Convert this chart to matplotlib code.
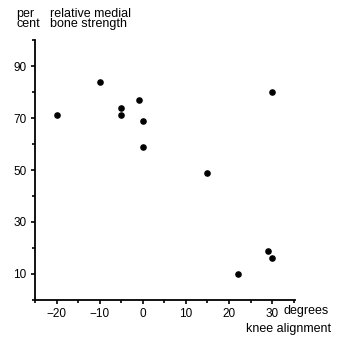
import matplotlib.pyplot as plt
from matplotlib.ticker import MultipleLocator

# knee alignment (degrees) vs relative medial bone strength (per cent)
alignment = [-20, -10, -5, -5, -1, 0, 0, 15, 30, 22, 29, 30]
strength = [71, 84, 74, 71, 77, 69, 59, 49, 80, 10, 19, 16]

x_ticks = [-20, -10, 0, 10, 20, 30]
y_ticks = [10, 30, 50, 70, 90]

plt.rcParams['font.family'] = ['Liberation Sans', 'DejaVu Sans']

fig = plt.figure(figsize=(3.41, 3.37), dpi=100)
ax = fig.add_axes([0.103, 0.110, 0.762, 0.771])

ax.scatter(alignment, strength, s=14, color="black", zorder=3)

ax.set_xlim(-25, 35.3)
ax.set_ylim(0, 100)
ax.set_xticks(x_ticks)
ax.set_yticks(y_ticks)
ax.xaxis.set_minor_locator(MultipleLocator(5))
ax.yaxis.set_minor_locator(MultipleLocator(10))
ax.tick_params(which="both", direction="out", length=3, width=1.2, labelsize=8.5, pad=3)
ax.tick_params(which="minor", length=2)
ax.spines["top"].set_visible(False)
ax.spines["right"].set_visible(False)
for s in ("left", "bottom"):
    ax.spines[s].set_linewidth(1.3)

fig.text(0.047, 0.977, "per\ncent", ha="left", va="top", fontsize=9, linespacing=0.85)
fig.text(0.147, 0.977, "relative medial\nbone strength", ha="left", va="top", fontsize=9, linespacing=0.85)
fig.text(0.830, 0.076, "degrees", ha="left", va="center", fontsize=9)
fig.text(0.971, 0.024, "knee alignment", ha="right", va="center", fontsize=9)

fig.savefig("out.png", dpi=100)
